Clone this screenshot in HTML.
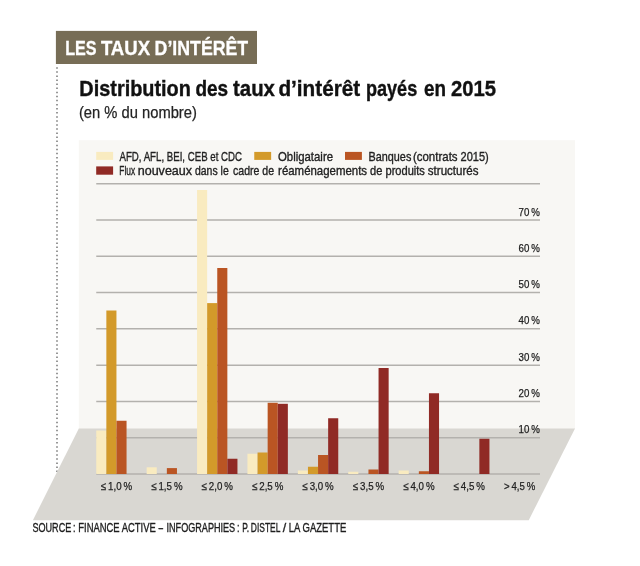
<!DOCTYPE html>
<html lang="fr"><head><meta charset="utf-8"><title>Les taux d'intérêt</title>
<style>
html,body{margin:0;padding:0;background:#fff;}
body{width:640px;height:566px;overflow:hidden;}
svg{display:block;}
text{font-family:"Liberation Sans",sans-serif;fill:#222222;}
.s{stroke:#222222;stroke-width:0.35px;}
.t{stroke:#222222;stroke-width:0.25px;}
</style></head><body>
<svg width="640" height="566" viewBox="0 0 640 566">
<rect width="640" height="566" fill="#ffffff"/>

<line x1="57" y1="67.25" x2="57" y2="472.2" stroke="#777" stroke-width="1.5" stroke-dasharray="1.5 2.574"/>
<rect x="55.9" y="30.9" width="201.1" height="33.1" fill="#776d56"/>
<text x="65.25" y="54.6" font-size="20.4" font-weight="bold" style="fill:#ffffff;stroke:#fff;stroke-width:0.3px" textLength="31.35" lengthAdjust="spacingAndGlyphs">LES</text>
<text x="100.90" y="54.6" font-size="20.4" font-weight="bold" style="fill:#ffffff;stroke:#fff;stroke-width:0.3px" textLength="49.20" lengthAdjust="spacingAndGlyphs">TAUX</text>
<text x="154.60" y="54.6" font-size="20.4" font-weight="bold" style="fill:#ffffff;stroke:#fff;stroke-width:0.3px" textLength="93.60" lengthAdjust="spacingAndGlyphs">D’INTÉRÊT</text>
<text x="79.35" y="95.6" font-size="22.4" font-weight="bold" style="fill:#111;stroke:#111;stroke-width:0.4px" textLength="111.55" lengthAdjust="spacingAndGlyphs">Distribution</text>
<text x="195.40" y="95.6" font-size="22.4" font-weight="bold" style="fill:#111;stroke:#111;stroke-width:0.4px" textLength="32.70" lengthAdjust="spacingAndGlyphs">des</text>
<text x="233.10" y="95.6" font-size="22.4" font-weight="bold" style="fill:#111;stroke:#111;stroke-width:0.4px" textLength="41.80" lengthAdjust="spacingAndGlyphs">taux</text>
<text x="278.40" y="95.6" font-size="22.4" font-weight="bold" style="fill:#111;stroke:#111;stroke-width:0.4px" textLength="81.80" lengthAdjust="spacingAndGlyphs">d’intérêt</text>
<text x="366.00" y="95.6" font-size="22.4" font-weight="bold" style="fill:#111;stroke:#111;stroke-width:0.4px" textLength="51.20" lengthAdjust="spacingAndGlyphs">payés</text>
<text x="424.10" y="95.6" font-size="22.4" font-weight="bold" style="fill:#111;stroke:#111;stroke-width:0.4px" textLength="22.00" lengthAdjust="spacingAndGlyphs">en</text>
<text x="450.90" y="95.6" font-size="22.4" font-weight="bold" style="fill:#111;stroke:#111;stroke-width:0.4px" textLength="45.00" lengthAdjust="spacingAndGlyphs">2015</text>
<text x="78.9" y="118.3" font-size="15.6" stroke="#2b2b2b" stroke-width="0.25" textLength="118" lengthAdjust="spacingAndGlyphs">(en % du nombre)</text>
<rect x="78.8" y="140.2" width="496.2" height="289" fill="#f8f7f4"/>
<polygon points="78.8,428.5 575,428.5 528.75,520.2 32.9,520.2" fill="#d9d7d2"/>
<line x1="96.25" y1="473.95" x2="540" y2="473.95" stroke="#b3b1ad" stroke-width="1.5"/>
<line x1="96.25" y1="437.68" x2="540" y2="437.68" stroke="#b3b1ad" stroke-width="1.5"/>
<text x="540" y="433.28" class="t" font-size="11.2" text-anchor="end" textLength="21.4" lengthAdjust="spacingAndGlyphs">10 %</text>
<line x1="96.25" y1="401.41" x2="540" y2="401.41" stroke="#b3b1ad" stroke-width="1.5"/>
<text x="540" y="397.01" class="t" font-size="11.2" text-anchor="end" textLength="21.4" lengthAdjust="spacingAndGlyphs">20 %</text>
<line x1="96.25" y1="365.14" x2="540" y2="365.14" stroke="#b3b1ad" stroke-width="1.5"/>
<text x="540" y="360.74" class="t" font-size="11.2" text-anchor="end" textLength="21.4" lengthAdjust="spacingAndGlyphs">30 %</text>
<line x1="96.25" y1="328.87" x2="540" y2="328.87" stroke="#b3b1ad" stroke-width="1.5"/>
<text x="540" y="324.47" class="t" font-size="11.2" text-anchor="end" textLength="21.4" lengthAdjust="spacingAndGlyphs">40 %</text>
<line x1="96.25" y1="292.60" x2="540" y2="292.60" stroke="#b3b1ad" stroke-width="1.5"/>
<text x="540" y="288.20" class="t" font-size="11.2" text-anchor="end" textLength="21.4" lengthAdjust="spacingAndGlyphs">50 %</text>
<line x1="96.25" y1="256.33" x2="540" y2="256.33" stroke="#b3b1ad" stroke-width="1.5"/>
<text x="540" y="251.93" class="t" font-size="11.2" text-anchor="end" textLength="21.4" lengthAdjust="spacingAndGlyphs">60 %</text>
<line x1="96.25" y1="220.06" x2="540" y2="220.06" stroke="#b3b1ad" stroke-width="1.5"/>
<text x="540" y="215.66" class="t" font-size="11.2" text-anchor="end" textLength="21.4" lengthAdjust="spacingAndGlyphs">70 %</text>
<line x1="96.25" y1="183.79" x2="540" y2="183.79" stroke="#b3b1ad" stroke-width="1.5"/>
<rect x="96.2" y="151.9" width="16.9" height="8" fill="#f9ebc0"/>
<rect x="254.25" y="151.9" width="16.9" height="8" fill="#d39a2a"/>
<rect x="345" y="151.9" width="16.9" height="8" fill="#ba5523"/>
<rect x="96.2" y="166.4" width="16.9" height="8.3" fill="#902a25"/>
<text x="119.5" y="160.5" class="s" font-size="12.7" textLength="122.5" lengthAdjust="spacingAndGlyphs">AFD, AFL, BEI, CEB et CDC</text>
<text x="278" y="160.5" class="s" font-size="12.7" textLength="55" lengthAdjust="spacingAndGlyphs">Obligataire</text>
<text x="368.60" y="160.5" class="s" font-size="12.7" textLength="42.70" lengthAdjust="spacingAndGlyphs">Banques</text>
<text x="412.90" y="160.5" class="s" font-size="12.7" textLength="44.70" lengthAdjust="spacingAndGlyphs">(contrats</text>
<text x="460.50" y="160.5" class="s" font-size="12.7" textLength="28.20" lengthAdjust="spacingAndGlyphs">2015)</text>
<text x="119.30" y="175" class="s" font-size="12.7" textLength="15.80" lengthAdjust="spacingAndGlyphs">Flux</text>
<text x="137.70" y="175" class="s" font-size="12.7" textLength="54.40" lengthAdjust="spacingAndGlyphs">nouveaux</text>
<text x="195.00" y="175" class="s" font-size="12.7" textLength="33.70" lengthAdjust="spacingAndGlyphs">dans le</text>
<text x="233.00" y="175" class="s" font-size="12.7" textLength="41.10" lengthAdjust="spacingAndGlyphs">cadre de</text>
<text x="278.10" y="175" class="s" font-size="12.7" textLength="89.00" lengthAdjust="spacingAndGlyphs">réaménagements</text>
<text x="370.10" y="175" class="s" font-size="12.7" textLength="54.80" lengthAdjust="spacingAndGlyphs">de produits</text>
<text x="427.80" y="175" class="s" font-size="12.7" textLength="50.70" lengthAdjust="spacingAndGlyphs">structurés</text>
<rect x="96.25" y="430.50" width="10.1" height="43.50" fill="#f9ebc0"/>
<rect x="106.35" y="310.50" width="10.1" height="163.50" fill="#d39a2a"/>
<rect x="116.45" y="420.75" width="10.1" height="53.25" fill="#ba5523"/>
<text x="116.45" y="489.7" class="t" font-size="11.3" text-anchor="middle" textLength="31.4" lengthAdjust="spacingAndGlyphs">≤ 1,0 %</text>
<rect x="146.65" y="467.30" width="10.1" height="6.70" fill="#f9ebc0"/>
<rect x="166.85" y="468.10" width="10.1" height="5.90" fill="#ba5523"/>
<text x="166.85" y="489.7" class="t" font-size="11.3" text-anchor="middle" textLength="31.4" lengthAdjust="spacingAndGlyphs">≤ 1,5 %</text>
<rect x="197.05" y="190.00" width="10.1" height="284.00" fill="#f9ebc0"/>
<rect x="207.15" y="303.10" width="10.1" height="170.90" fill="#d39a2a"/>
<rect x="217.25" y="268.00" width="10.1" height="206.00" fill="#ba5523"/>
<rect x="227.35" y="458.75" width="10.1" height="15.25" fill="#902a25"/>
<text x="217.25" y="489.7" class="t" font-size="11.3" text-anchor="middle" textLength="31.4" lengthAdjust="spacingAndGlyphs">≤ 2,0 %</text>
<rect x="247.45" y="453.75" width="10.1" height="20.25" fill="#f9ebc0"/>
<rect x="257.55" y="452.50" width="10.1" height="21.50" fill="#d39a2a"/>
<rect x="267.65" y="402.80" width="10.1" height="71.20" fill="#ba5523"/>
<rect x="277.75" y="403.80" width="10.1" height="70.20" fill="#902a25"/>
<text x="267.65" y="489.7" class="t" font-size="11.3" text-anchor="middle" textLength="31.4" lengthAdjust="spacingAndGlyphs">≤ 2,5 %</text>
<rect x="297.85" y="470.50" width="10.1" height="3.50" fill="#f9ebc0"/>
<rect x="307.95" y="466.75" width="10.1" height="7.25" fill="#d39a2a"/>
<rect x="318.05" y="455.00" width="10.1" height="19.00" fill="#ba5523"/>
<rect x="328.15" y="418.25" width="10.1" height="55.75" fill="#902a25"/>
<text x="318.05" y="489.7" class="t" font-size="11.3" text-anchor="middle" textLength="31.4" lengthAdjust="spacingAndGlyphs">≤ 3,0 %</text>
<rect x="348.25" y="471.75" width="10.1" height="2.25" fill="#f9ebc0"/>
<rect x="368.45" y="469.50" width="10.1" height="4.50" fill="#ba5523"/>
<rect x="378.55" y="368.00" width="10.1" height="106.00" fill="#902a25"/>
<text x="368.45" y="489.7" class="t" font-size="11.3" text-anchor="middle" textLength="31.4" lengthAdjust="spacingAndGlyphs">≤ 3,5 %</text>
<rect x="398.65" y="470.50" width="10.1" height="3.50" fill="#f9ebc0"/>
<rect x="418.85" y="471.25" width="10.1" height="2.75" fill="#ba5523"/>
<rect x="428.95" y="393.25" width="10.1" height="80.75" fill="#902a25"/>
<text x="418.85" y="489.7" class="t" font-size="11.3" text-anchor="middle" textLength="31.4" lengthAdjust="spacingAndGlyphs">≤ 4,0 %</text>
<rect x="479.35" y="438.75" width="10.1" height="35.25" fill="#902a25"/>
<text x="469.25" y="489.7" class="t" font-size="11.3" text-anchor="middle" textLength="31.4" lengthAdjust="spacingAndGlyphs">≤ 4,5 %</text>
<text x="519.65" y="489.7" class="t" font-size="11.3" text-anchor="middle" textLength="31.4" lengthAdjust="spacingAndGlyphs">> 4,5 %</text>
<text x="284.6" y="532" class="s" font-size="12.4" text-anchor="middle" style="fill:#1a1a1a">/</text>
<text x="32.40" y="532" class="s" font-size="12.4" style="fill:#1a1a1a" textLength="43.20" lengthAdjust="spacingAndGlyphs">SOURCE :</text>
<text x="78.30" y="532" class="s" font-size="12.4" style="fill:#1a1a1a" textLength="77.40" lengthAdjust="spacingAndGlyphs">FINANCE ACTIVE</text>
<text x="158.00" y="532" class="s" font-size="12.4" style="fill:#1a1a1a" textLength="5.70" lengthAdjust="spacingAndGlyphs">-</text>
<text x="166.50" y="532" class="s" font-size="12.4" style="fill:#1a1a1a" textLength="73.00" lengthAdjust="spacingAndGlyphs">INFOGRAPHIES :</text>
<text x="242.30" y="532" class="s" font-size="12.4" style="fill:#1a1a1a" textLength="38.10" lengthAdjust="spacingAndGlyphs">P. DISTEL</text>
<text x="288.80" y="532" class="s" font-size="12.4" style="fill:#1a1a1a" textLength="57.50" lengthAdjust="spacingAndGlyphs">LA GAZETTE</text>
</svg>
</body></html>
